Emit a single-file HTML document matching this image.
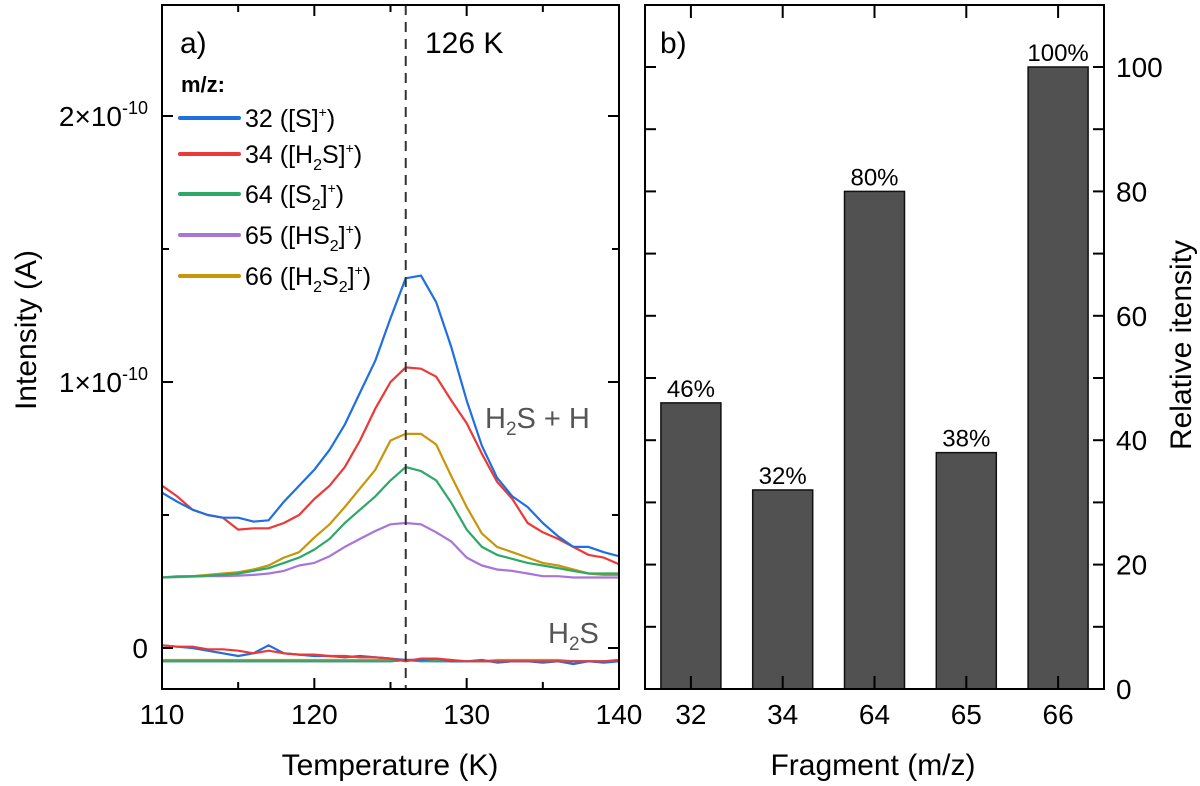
<!DOCTYPE html>
<html><head><meta charset="utf-8">
<style>
html,body{margin:0;padding:0;background:#fff;}
svg{display:block;font-family:"Liberation Sans",Arial,sans-serif;}
</style></head>
<body>
<svg id="fig" width="1200" height="786" viewBox="0 0 1200 786" xmlns="http://www.w3.org/2000/svg"></svg>
<script>
// ---- panel a data (intensity in units of 1e-10 A) ----
const temps = [110,111,112,113,114,115,116,117,118,119,120,121,122,123,124,125,126,127,128,129,130,131,132,133,134,135,136,137,138,139,140];
const s32 = [0.584,0.55,0.52,0.50,0.49,0.49,0.475,0.48,0.55,0.61,0.67,0.745,0.84,0.96,1.08,1.24,1.39,1.40,1.30,1.13,0.93,0.76,0.64,0.57,0.53,0.47,0.42,0.38,0.38,0.36,0.345];
const s34 = [0.61,0.57,0.52,0.50,0.49,0.445,0.45,0.45,0.47,0.50,0.56,0.61,0.68,0.78,0.90,1.00,1.055,1.05,1.02,0.93,0.845,0.73,0.625,0.56,0.47,0.435,0.41,0.38,0.35,0.34,0.315];
const s64 = [0.265,0.268,0.27,0.272,0.275,0.28,0.29,0.30,0.32,0.34,0.37,0.41,0.47,0.52,0.57,0.63,0.68,0.665,0.63,0.545,0.445,0.38,0.35,0.335,0.32,0.31,0.30,0.29,0.28,0.28,0.28];
const s65 = [0.265,0.266,0.268,0.27,0.27,0.272,0.275,0.28,0.29,0.31,0.32,0.345,0.38,0.41,0.44,0.465,0.47,0.465,0.435,0.40,0.34,0.31,0.295,0.29,0.28,0.27,0.27,0.265,0.265,0.265,0.265];
const s66 = [0.265,0.27,0.27,0.275,0.28,0.285,0.295,0.31,0.34,0.36,0.415,0.465,0.53,0.60,0.67,0.78,0.805,0.805,0.765,0.645,0.53,0.43,0.38,0.36,0.34,0.32,0.31,0.295,0.28,0.275,0.275];
// pure H2S (near zero)
const p32 = [0.01,0.005,0.0,-0.01,-0.02,-0.03,-0.02,0.01,-0.02,-0.025,-0.03,-0.03,-0.035,-0.03,-0.035,-0.04,-0.045,-0.045,-0.04,-0.05,-0.05,-0.045,-0.055,-0.05,-0.05,-0.055,-0.05,-0.06,-0.05,-0.055,-0.05];
const p34 = [0.01,0.005,0.005,-0.005,-0.005,-0.01,-0.02,-0.01,-0.02,-0.025,-0.025,-0.03,-0.03,-0.035,-0.035,-0.04,-0.05,-0.04,-0.04,-0.045,-0.05,-0.05,-0.05,-0.05,-0.05,-0.05,-0.05,-0.05,-0.05,-0.05,-0.045];
const p64 = [-0.05,-0.05,-0.05,-0.05,-0.05,-0.05,-0.05,-0.05,-0.05,-0.05,-0.05,-0.05,-0.05,-0.05,-0.05,-0.05,-0.045,-0.05,-0.05,-0.05,-0.05,-0.05,-0.05,-0.05,-0.05,-0.05,-0.05,-0.05,-0.05,-0.05,-0.05];
const p65 = [-0.05,-0.05,-0.05,-0.05,-0.05,-0.05,-0.05,-0.05,-0.05,-0.05,-0.05,-0.05,-0.05,-0.05,-0.05,-0.05,-0.045,-0.045,-0.05,-0.05,-0.05,-0.05,-0.05,-0.05,-0.05,-0.05,-0.05,-0.05,-0.05,-0.05,-0.045];
const p66 = [-0.045,-0.045,-0.045,-0.045,-0.045,-0.045,-0.045,-0.045,-0.045,-0.045,-0.045,-0.045,-0.045,-0.045,-0.045,-0.045,-0.045,-0.045,-0.045,-0.05,-0.05,-0.05,-0.045,-0.045,-0.045,-0.045,-0.045,-0.05,-0.05,-0.05,-0.05];
const xTicks = [110,120,130,140];
const yTicks = [0,1,2];
const yTickLabels = ["0","1×10","2×10"];
// ---- panel b data ----
const fragments = ["32","34","64","65","66"];
const relInt = [46,32,80,38,100];
const barLabels = ["46%","32%","80%","38%","100%"];
const rTicks = [0,20,40,60,80,100];

const NS="http://www.w3.org/2000/svg";
const svg=document.getElementById('fig');
function el(tag,attrs,parent){const e=document.createElementNS(NS,tag);for(const k in attrs)e.setAttribute(k,attrs[k]);(parent||svg).appendChild(e);return e;}

const A={l:162,r:619,t:5,b:689};
const xA=t=>A.l+(t-110)/30*(A.r-A.l);
const yA=v=>648-v*266;

const gA=el('g',{});


const defs=el('defs',{});
const cp=el('clipPath',{id:'clipA'},defs);
el('rect',{x:A.l,y:A.t,width:A.r-A.l,height:A.b-A.t},cp);

const colors={s32:'#1f6fe0',s34:'#ee3838',s64:'#2ea866',s65:'#a974d8',s66:'#c8960a'};
const series=[['series-m66',s66,colors.s66],['series-m65',s65,colors.s65],['series-m64',s64,colors.s64],['series-m34',s34,colors.s34],['series-m32',s32,colors.s32],
['h2s-m66',p66,colors.s66],['h2s-m65',p65,colors.s65],['h2s-m64',p64,colors.s64],['h2s-m32',p32,colors.s32],['h2s-m34',p34,colors.s34]];
const gL=el('g',{'clip-path':'url(#clipA)'},gA);
series.forEach(([nm,arr,c])=>{
  const d=arr.map((v,i)=>(i?'L':'M')+xA(temps[i]).toFixed(1)+','+yA(v).toFixed(1)).join('');
  const p=el('path',{d:d,fill:'none',stroke:c,'stroke-width':2.2,'stroke-linejoin':'round'},gL);
  
  
});
const dl=el('line',{x1:xA(126),x2:xA(126),y1:A.t,y2:A.b,stroke:'#333','stroke-width':2,'stroke-dasharray':'10,7'},gA);


const fA=el('rect',{x:A.l,y:A.t,width:A.r-A.l,height:A.b-A.t,fill:'none',stroke:'#000','stroke-width':2},gA);


for(let t=110;t<=140;t+=5){
  const len=(t%10===0)?11:7;const x=xA(t);
  el('line',{x1:x,x2:x,y1:A.b,y2:A.b-len,stroke:'#000','stroke-width':2},gA);
  el('line',{x1:x,x2:x,y1:A.t,y2:A.t+len,stroke:'#000','stroke-width':2},gA);
}
xTicks.forEach(t=>{
  const tx=el('text',{x:xA(t),y:724,'font-size':28,'text-anchor':'middle'},gA);tx.textContent=t;
  
  
});
for(let v=0;v<=2;v+=0.5){
  const len=(v%1===0)?11:7;const y=yA(v);
  el('line',{x1:A.l,x2:A.l+len,y1:y,y2:y,stroke:'#000','stroke-width':2},gA);
  el('line',{x1:A.r,x2:A.r-len,y1:y,y2:y,stroke:'#000','stroke-width':2},gA);
}
yTicks.forEach((v,i)=>{
  const tx=el('text',{x:148,y:yA(v)+10,'font-size':28,'text-anchor':'end'},gA);
  
  
  if(v===0){tx.textContent=yTickLabels[i];}
  else{tx.textContent=yTickLabels[i];const s=el('tspan',{dy:-12,'font-size':18},tx);s.textContent='-10';}
});
const yt=el('text',{x:0,y:0,'font-size':30,'text-anchor':'middle',transform:'translate(36,330) rotate(-90)'},gA);
yt.textContent='Intensity (A)';


const xt=el('text',{x:390,y:775,'font-size':30,'text-anchor':'middle'},gA);
xt.textContent='Temperature (K)';


const pa=el('text',{x:180,y:53,'font-size':30},gA);pa.textContent='a)';


const pk=el('text',{x:425,y:53,'font-size':30},gA);pk.textContent='126 K';


const h1=el('text',{x:485,y:428,'font-size':29,fill:'#555'},gA);
h1.innerHTML='H<tspan dy="7" font-size="19">2</tspan><tspan dy="-7">S + H</tspan>';


const h2=el('text',{x:548,y:643,'font-size':29,fill:'#555'},gA);
h2.innerHTML='H<tspan dy="7" font-size="19">2</tspan><tspan dy="-7">S</tspan>';


const gLeg=el('g',{},gA);


const lt=el('text',{x:181,y:92,'font-size':22,'font-weight':'bold'},gLeg);lt.textContent='m/z:';
const legItems=[
 [colors.s32,'32 ([S]<tspan dy="-10" font-size="14">+</tspan><tspan dy="10">)</tspan>'],
 [colors.s34,'34 ([H<tspan dy="7" font-size="16">2</tspan><tspan dy="-7">S]</tspan><tspan dy="-10" font-size="14">+</tspan><tspan dy="10">)</tspan>'],
 [colors.s64,'64 ([S<tspan dy="7" font-size="16">2</tspan><tspan dy="-7">]</tspan><tspan dy="-10" font-size="14">+</tspan><tspan dy="10">)</tspan>'],
 [colors.s65,'65 ([HS<tspan dy="7" font-size="16">2</tspan><tspan dy="-7">]</tspan><tspan dy="-10" font-size="14">+</tspan><tspan dy="10">)</tspan>'],
 [colors.s66,'66 ([H<tspan dy="7" font-size="16">2</tspan><tspan dy="-7">S</tspan><tspan dy="7" font-size="16">2</tspan><tspan dy="-7">]</tspan><tspan dy="-10" font-size="14">+</tspan><tspan dy="10">)</tspan>']];
const legY=[118,154,194,235,276];
legItems.forEach(([c,h],i)=>{
  const g=el('g',{},gLeg);
  
  
  el('line',{x1:180,x2:239,y1:legY[i],y2:legY[i],stroke:c,'stroke-width':4,'stroke-linecap':'round'},g);
  const t=el('text',{x:245,y:legY[i]+9,'font-size':25},g);t.innerHTML=h;
});

const B={l:645,r:1104,t:5,b:689};
const slot=(B.r-B.l)/5;
const xB=i=>B.l+slot*(i+0.5);
const yB=v=>689-v*6.22;
const gB=el('g',{});


relInt.forEach((v,i)=>{
  const r=el('rect',{x:xB(i)-30,y:yB(v),width:60,height:yB(0)-yB(v),fill:'#515151',stroke:'#111','stroke-width':1.5},gB);
  
  
  const t=el('text',{x:xB(i),y:yB(v)-6,'font-size':24,'text-anchor':'middle'},gB);t.textContent=barLabels[i];
  
  
  const xl=el('text',{x:xB(i),y:724,'font-size':28,'text-anchor':'middle'},gB);xl.textContent=fragments[i];
  
  
  el('line',{x1:xB(i),x2:xB(i),y1:B.b,y2:B.b-13,stroke:'#000','stroke-width':2},gB);
  el('line',{x1:xB(i),x2:xB(i),y1:B.t,y2:B.t+13,stroke:'#000','stroke-width':2},gB);
});
const fB=el('rect',{x:B.l,y:B.t,width:B.r-B.l,height:B.b-B.t,fill:'none',stroke:'#000','stroke-width':2},gB);


for(let v=10;v<=110;v+=10){
  const y=yB(v);if(y<B.t)break;
  el('line',{x1:B.l,x2:B.l+11,y1:y,y2:y,stroke:'#000','stroke-width':2},gB);
  el('line',{x1:B.r,x2:B.r-11,y1:y,y2:y,stroke:'#000','stroke-width':2},gB);
}
rTicks.forEach(v=>{
  const t=el('text',{x:1116,y:yB(v)+10,'font-size':28},gB);t.textContent=v;
  
  
});
const ryt=el('text',{x:0,y:0,'font-size':30,'text-anchor':'middle',transform:'translate(1191,345) rotate(-90)'},gB);
ryt.textContent='Relative itensity';


const bxt=el('text',{x:873,y:775,'font-size':30,'text-anchor':'middle'},gB);
bxt.textContent='Fragment (m/z)';


const pb=el('text',{x:660,y:53,'font-size':30},gB);pb.textContent='b)';


</script>
</body></html>
